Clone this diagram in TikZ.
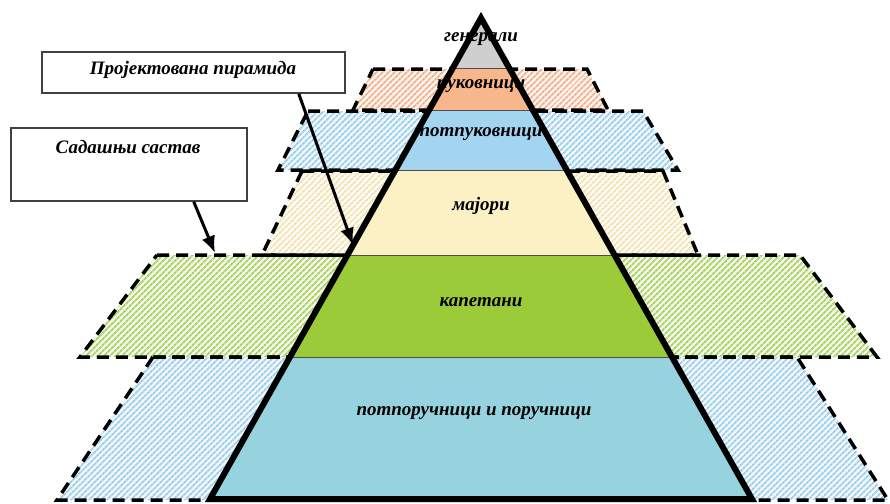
\documentclass[tikz,border=0pt]{standalone}
\usepackage{fontspec}
\setmainfont{Liberation Serif}
\usetikzlibrary{patterns.meta,arrows.meta}
\definecolor{cgen}{HTML}{CFCFCF}
\definecolor{ccol}{HTML}{F7B68C}
\definecolor{cltc}{HTML}{A3D5F0}
\definecolor{cmaj}{HTML}{FBF1C4}
\definecolor{ccap}{HTML}{9CCB3A}
\definecolor{clt}{HTML}{96D3DE}
\definecolor{hcol}{HTML}{F2B28C}
\definecolor{hltc}{HTML}{9DCFEA}
\definecolor{hmaj}{HTML}{F1E2B4}
\definecolor{hcap}{HTML}{A9D163}
\definecolor{hlt}{HTML}{A0CFEA}
\tikzset{
  lbl/.style={font=\fontsize{19}{21}\selectfont\bfseries\itshape, inner sep=0pt},
  boxlbl/.style={font=\fontsize{19}{21}\selectfont\bfseries\itshape, inner sep=0pt},
  box/.style={draw=black!75, line width=1.5pt, fill=white, inner sep=0pt},
  hatch/.style={fill=#1!15, postaction={pattern={Lines[angle=45,distance=4pt,line width=1.8pt]}, pattern color=#1}},
  dashedge/.style={draw=black, line width=3.5pt, dash pattern=on 12pt off 7pt},
  ptr/.style={line width=3pt, -{Latex[length=17pt,width=14pt]}},
  sep/.style={draw=black!70, line width=1pt}
}
\begin{document}
\begin{tikzpicture}[x=1pt,y=-1pt]
\fill[white] (0,0) rectangle (890,503);
\useasboundingbox (0,0) rectangle (890,503);
% hatched extents
\path[hatch=hcol] (373,69)--(587,69)--(608,110)--(353,110)--cycle;
\path[hatch=hltc] (308,111)--(643,111)--(678,170)--(278,170)--cycle;
\path[hatch=hmaj] (302,171)--(663,171)--(698,255)--(262,255)--cycle;
\path[hatch=hcap] (157,255)--(800,255)--(877,357)--(80,357)--cycle;
\path[hatch=hlt] (153,357)--(797,357)--(888,500)--(57,500)--cycle;
\draw[dashedge] (373,69)--(587,69)--(608,110)--(353,110)--cycle;
\draw[dashedge] (308,111)--(643,111)--(678,170)--(278,170)--cycle;
\draw[dashedge] (302,171)--(663,171)--(698,255)--(262,255)--cycle;
\draw[dashedge] (157,255)--(800,255)--(877,357)--(80,357)--cycle;
\draw[dashedge] (153,357)--(797,357)--(888,500)--(57,500)--cycle;
% pyramid
\coordinate (apex) at (481,18);
\coordinate (bl) at (210,499);
\coordinate (br) at (752,499);
\begin{scope}
\clip (apex)--(bl)--(br)--cycle;
\fill[cgen] (0,0) rectangle (890,68);
\fill[ccol] (0,68) rectangle (890,110);
\fill[cltc] (0,110) rectangle (890,170);
\fill[cmaj] (0,170) rectangle (890,255);
\fill[ccap] (0,255) rectangle (890,357);
\fill[clt] (0,357) rectangle (890,503);
\draw[sep] (0,68)--(890,68);
\draw[sep] (0,110)--(890,110);
\draw[sep] (0,170)--(890,170);
\draw[sep] (0,255)--(890,255);
\draw[sep] (0,357)--(890,357);
\end{scope}
\node[lbl] (gen) at (481,39) {генерали};
\node[lbl] (col) at (481,86) {пуковници};
\node[lbl] (ltc) at (481,134) {потпуковници};
\node[lbl] (maj) at (481,206) {мајори};
\node[lbl] (cap) at (481,302) {капетани};
\node[lbl] (lt) at (474,413) {потпоручници и поручници};
\draw[line width=6pt, line join=miter, miter limit=10] (apex)--(bl)--(br)--cycle;
% boxes
\node[box, minimum width=303pt, minimum height=41pt] (proj) at (193.5,72.5) {};
\node[boxlbl] (projt) at (193,70) {Пројектована пирамида};
\node[box, minimum width=236pt, minimum height=73pt] (sad) at (129,164.5) {};
\node[boxlbl] (sadt) at (128,147) {Садашњи састав};
\coordinate (tipP) at (353,245);
\coordinate (tipS) at (215,253);
\draw[ptr] ([xshift=-47pt]proj.south east) -- (tipP);
\draw[ptr] ([xshift=-54pt]sad.south east) -- (tipS);
\end{tikzpicture}
\end{document}
